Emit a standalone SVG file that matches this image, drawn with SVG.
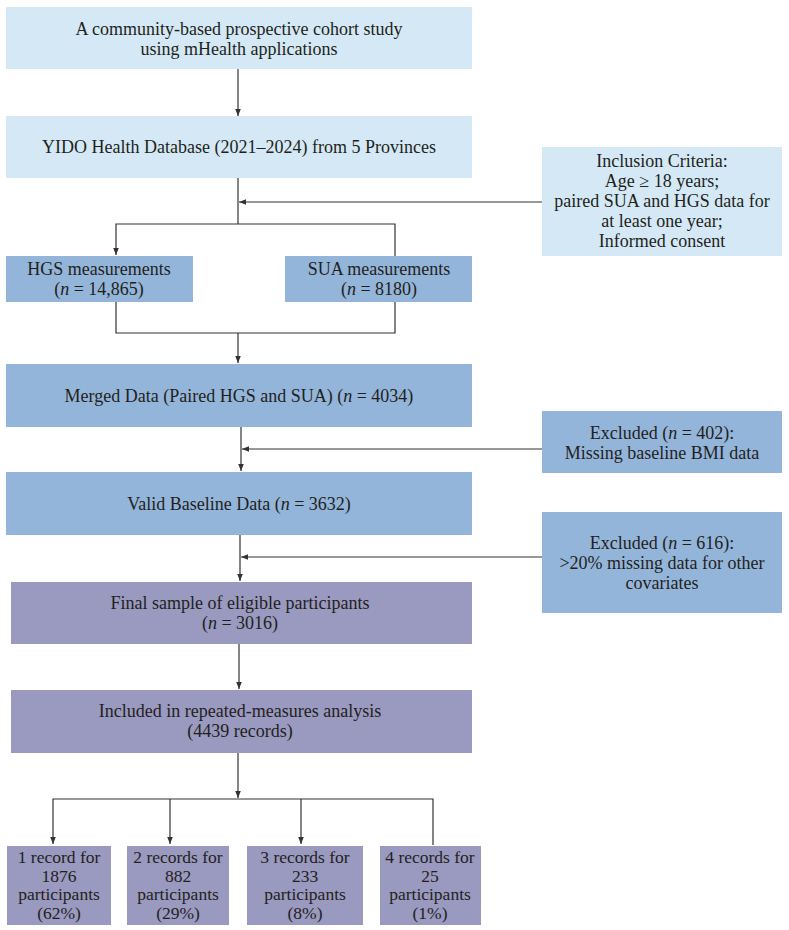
<svg xmlns="http://www.w3.org/2000/svg" width="789" height="930" viewBox="0 0 789 930">
<style>
text{font-family:"Liberation Serif","DejaVu Serif",serif;font-size:18px;fill:#231f20;text-anchor:middle}
.sm{font-size:17.5px}
.lb{fill:#d4e9f5}
.mb{fill:#94b5da}
.pu{fill:#9a99bf}
.c{fill:none;stroke:#333;stroke-width:1.2}
</style>
<defs>
<marker id="ah" viewBox="0 0 10 10" refX="10" refY="5" markerWidth="7" markerHeight="7" markerUnits="userSpaceOnUse" orient="auto"><path d="M0,1 L10,5 L0,9 Z" fill="#333"/></marker>
</defs>
<rect width="789" height="930" fill="#fff"/>
<g id="connectors">
<path class="c" d="M238,69 V116" marker-end="url(#ah)"/>
<path class="c" d="M238,178 V224"/>
<path class="c" d="M542,202 H239" marker-end="url(#ah)"/>
<path class="c" d="M395,256 V224 H116 V255" marker-end="url(#ah)"/>
<path class="c" d="M116,302 V333 H395 V302"/>
<path class="c" d="M238,333 V363" marker-end="url(#ah)"/>
<path class="c" d="M241,427 V471" marker-end="url(#ah)"/>
<path class="c" d="M542,449 H242" marker-end="url(#ah)"/>
<path class="c" d="M240,535 V581" marker-end="url(#ah)"/>
<path class="c" d="M542,557 H241" marker-end="url(#ah)"/>
<path class="c" d="M239,644 V689" marker-end="url(#ah)"/>
<path class="c" d="M238,753 V798" marker-end="url(#ah)"/>
<path class="c" d="M433,845 V799 H53 V844" marker-end="url(#ah)"/>
<path class="c" d="M170,799 V844" marker-end="url(#ah)"/>
<path class="c" d="M301,799 V844" marker-end="url(#ah)"/>
</g>
<g id="n1"><rect class="lb" x="6" y="7" width="466" height="62"/>
<text x="239" y="35">A community-based prospective cohort study</text>
<text x="239" y="55">using mHealth applications</text></g>
<g id="n2"><rect class="lb" x="6" y="116" width="466" height="62"/>
<text x="239" y="153">YIDO Health Database (2021–2024) from 5 Provinces</text></g>
<g id="inclusion"><rect class="lb" x="542" y="147" width="240" height="109"/>
<text x="662" y="167">Inclusion Criteria:</text>
<text x="662" y="187">Age ≥ 18 years;</text>
<text x="662" y="207">paired SUA and HGS data for</text>
<text x="662" y="227">at least one year;</text>
<text x="662" y="247">Informed consent</text></g>
<g id="hgs"><rect class="mb" x="6" y="256" width="187" height="46"/>
<text x="99" y="275">HGS measurements</text>
<text x="99" y="295">(<tspan font-style="italic">n</tspan> = 14,865)</text></g>
<g id="sua"><rect class="mb" x="285" y="256" width="187" height="46"/>
<text x="379" y="275">SUA measurements</text>
<text x="379" y="295">(<tspan font-style="italic">n</tspan> = 8180)</text></g>
<g id="merged"><rect class="mb" x="6" y="364" width="466" height="63"/>
<text x="239" y="402">Merged Data (Paired HGS and SUA) (<tspan font-style="italic">n</tspan> = 4034)</text></g>
<g id="excl1"><rect class="mb" x="542" y="411" width="240" height="62"/>
<text x="662" y="439">Excluded (<tspan font-style="italic">n</tspan> = 402):</text>
<text x="662" y="459">Missing baseline BMI data</text></g>
<g id="valid"><rect class="mb" x="6" y="472" width="466" height="63"/>
<text x="239" y="510">Valid Baseline Data (<tspan font-style="italic">n</tspan> = 3632)</text></g>
<g id="excl2"><rect class="mb" x="542" y="512" width="240" height="101"/>
<text x="662" y="549">Excluded (<tspan font-style="italic">n</tspan> = 616):</text>
<text x="662" y="569">&gt;20% missing data for other</text>
<text x="662" y="589">covariates</text></g>
<g id="final"><rect class="pu" x="11" y="582" width="461" height="62"/>
<text x="240" y="609">Final sample of eligible participants</text>
<text x="240" y="629">(<tspan font-style="italic">n</tspan> = 3016)</text></g>
<g id="included"><rect class="pu" x="11" y="690" width="461" height="63"/>
<text x="240" y="717">Included in repeated-measures analysis</text>
<text x="240" y="737">(4439 records)</text></g>
<g id="r1"><rect class="pu" x="7" y="846" width="104" height="79"/>
<text class="sm" x="59" y="863">1 record for</text><text class="sm" x="59" y="881.5">1876</text><text class="sm" x="59" y="900">participants</text><text class="sm" x="59" y="918.5">(62%)</text></g>
<g id="r2"><rect class="pu" x="127" y="846" width="102" height="79"/>
<text class="sm" x="178" y="863">2 records for</text><text class="sm" x="178" y="881.5">882</text><text class="sm" x="178" y="900">participants</text><text class="sm" x="178" y="918.5">(29%)</text></g>
<g id="r3"><rect class="pu" x="247" y="846" width="116" height="79"/>
<text class="sm" x="305" y="863">3 records for</text><text class="sm" x="305" y="881.5">233</text><text class="sm" x="305" y="900">participants</text><text class="sm" x="305" y="918.5">(8%)</text></g>
<g id="r4"><rect class="pu" x="380" y="846" width="101" height="79"/>
<text class="sm" x="430" y="863">4 records for</text><text class="sm" x="430" y="881.5">25</text><text class="sm" x="430" y="900">participants</text><text class="sm" x="430" y="918.5">(1%)</text></g>
</svg>
